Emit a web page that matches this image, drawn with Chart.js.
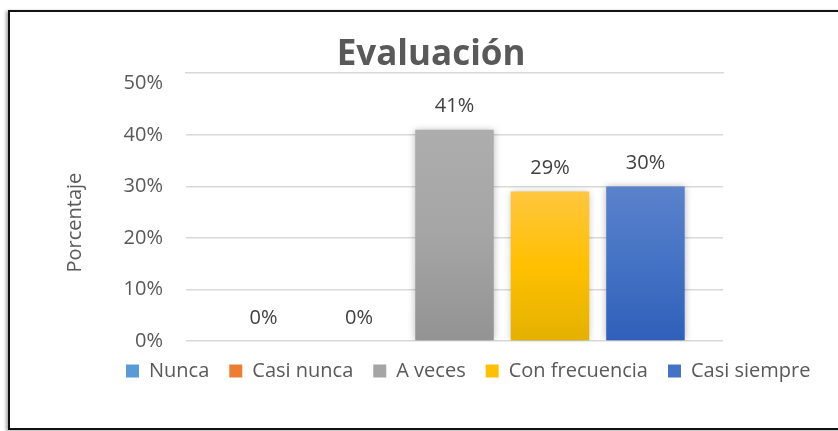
<!DOCTYPE html>
<html>
<head>
    <meta charset="UTF-8">
    <title>Evaluación</title>
    <script src="https://cdn.jsdelivr.net/npm/chart.js@4.4.1/dist/chart.umd.min.js"></script>
    <style type="text/css">
        html, body {
            margin: 0;
            padding: 0;
            background: #fff;
            overflow: hidden;
        }
        #frame {
            position: absolute;
            left: 8px;
            top: 10px;
            width: 900px;
            height: 416px;
            border: 2px solid #111;
            box-shadow: -2px 1px 3px rgba(0, 0, 0, 0.35);
            background: #fff;
        }
        #wrap {
            position: absolute;
            left: 0;
            top: 0;
            width: 838px;
            height: 431px;
        }
    </style>
</head>
<body>

<div id="frame"></div>
<div id="wrap">
    <canvas id="evalChart"></canvas>
</div>

<script>
    // data
    const seriesNames = ['Nunca', 'Casi nunca', 'A veces', 'Con frecuencia', 'Casi siempre'];
    const seriesValues = [0, 0, 41, 29, 30];
    const yTicks = [0, 10, 20, 30, 40, 50];

    // office palette, plus light/dark ends for the bar gradients
    const solidColors = ['#5b9bd5', '#ed7d31', '#a5a5a5', '#ffc000', '#4472c4'];
    const gradTops = ['#6aa6dd', '#f18c4e', '#adadad', '#ffc63f', '#5b82cc'];
    const gradBottoms = ['#4b8bc6', '#d96d22', '#939393', '#e4b100', '#2f5fb9'];

    const textColor = '#595959';
    const gridColor = '#d9d9d9';
    const fontFamily = "'Open Sans', sans-serif";

    // title/axis title are not centred on their boxes in the original,
    // trailing no-break spaces nudge them over
    const nbsp = n => '\u00a0'.repeat(n);

    function barGradient(i) {
        return function (c) {
            const chart = c.chart;
            if (!chart.chartArea || !chart.scales.y) return solidColors[i];
            const y = chart.scales.y;
            const top = y.getPixelForValue(seriesValues[i]);
            const bottom = y.getPixelForValue(0);
            if (bottom - top < 1) return solidColors[i];
            const g = chart.ctx.createLinearGradient(0, top, 0, bottom);
            g.addColorStop(0, gradTops[i]);
            g.addColorStop(0.5, solidColors[i]);
            g.addColorStop(1, gradBottoms[i]);
            return g;
        };
    }

    // soft shadow under bars + value labels above them
    const barExtras = {
        id: 'barExtras',
        beforeDatasetsDraw(chart) {
            const ctx = chart.ctx;
            ctx.save();
            ctx.shadowColor = 'rgba(0, 0, 0, 0.28)';
            ctx.shadowBlur = 7;
        },
        afterDatasetsDraw(chart) {
            const ctx = chart.ctx;
            ctx.restore();
            ctx.save();
            ctx.font = '20px ' + fontFamily;
            ctx.fillStyle = '#404040';
            ctx.textAlign = 'center';
            ctx.textBaseline = 'middle';
            chart.data.datasets.forEach((ds, i) => {
                const el = chart.getDatasetMeta(i).data[0];
                ctx.fillText(ds.data[0] + '%', el.x, el.y - 23);
            });
            ctx.restore();
        }
    };

    const datasets = seriesNames.map((name, i) => ({
        label: name,
        data: [seriesValues[i]],
        backgroundColor: barGradient(i),
        borderWidth: 0,
        categoryPercentage: 0.889,
        barPercentage: 0.822
    }));

    new Chart(document.getElementById('evalChart'), {
        type: 'bar',
        data: {
            labels: [''],
            datasets: datasets
        },
        plugins: [barExtras],
        options: {
            responsive: true,
            maintainAspectRatio: false,
            animation: false,
            layout: {
                padding: { left: 106, right: 0, top: 0, bottom: 40 }
            },
            plugins: {
                title: {
                    display: true,
                    text: 'Evaluación' + nbsp(9),
                    color: textColor,
                    font: { family: fontFamily, size: 35, weight: 'bold', lineHeight: 1 },
                    padding: { top: 38, bottom: 0 }
                },
                legend: {
                    position: 'bottom',
                    align: 'start',
                    labels: {
                        color: textColor,
                        font: { family: fontFamily, size: 20 },
                        boxWidth: 13,
                        boxHeight: 13,
                        padding: 20,
                        generateLabels(chart) {
                            const items = Chart.defaults.plugins.legend.labels.generateLabels(chart);
                            items.forEach((it, i) => {
                                it.fillStyle = solidColors[i];
                                it.strokeStyle = solidColors[i];
                                it.lineWidth = 0;
                            });
                            return items;
                        }
                    }
                },
                tooltip: { enabled: false }
            },
            scales: {
                x: {
                    position: 'top',
                    ticks: { display: false },
                    grid: { display: false, drawTicks: false },
                    border: { display: true, color: gridColor, width: 1.5 }
                },
                y: {
                    min: 0,
                    max: 52,
                    afterBuildTicks(scale) {
                        scale.ticks = yTicks.map(v => ({ value: v }));
                    },
                    afterFit(scale) {
                        scale.width = 80;
                    },
                    ticks: {
                        color: textColor,
                        font: { family: fontFamily, size: 20 },
                        padding: 23,
                        callback: v => v + '%'
                    },
                    grid: {
                        drawTicks: false,
                        lineWidth: 1.5,
                        // top line comes from the x border instead
                        color: c => (c.tick && c.tick.value === 50) ? 'rgba(0,0,0,0)' : gridColor
                    },
                    border: { display: false },
                    title: {
                        display: true,
                        text: 'Porcentaje' + nbsp(6),
                        color: textColor,
                        font: { family: fontFamily, size: 20, lineHeight: 1 },
                        padding: { top: -41, bottom: 0 }
                    }
                },
                yRight: {
                    position: 'right',
                    ticks: { display: false },
                    grid: { drawOnChartArea: false, drawTicks: false },
                    border: { display: false },
                    afterFit(scale) {
                        scale.width = 115;
                    }
                }
            }
        }
    });
</script>
</body>
</html>
